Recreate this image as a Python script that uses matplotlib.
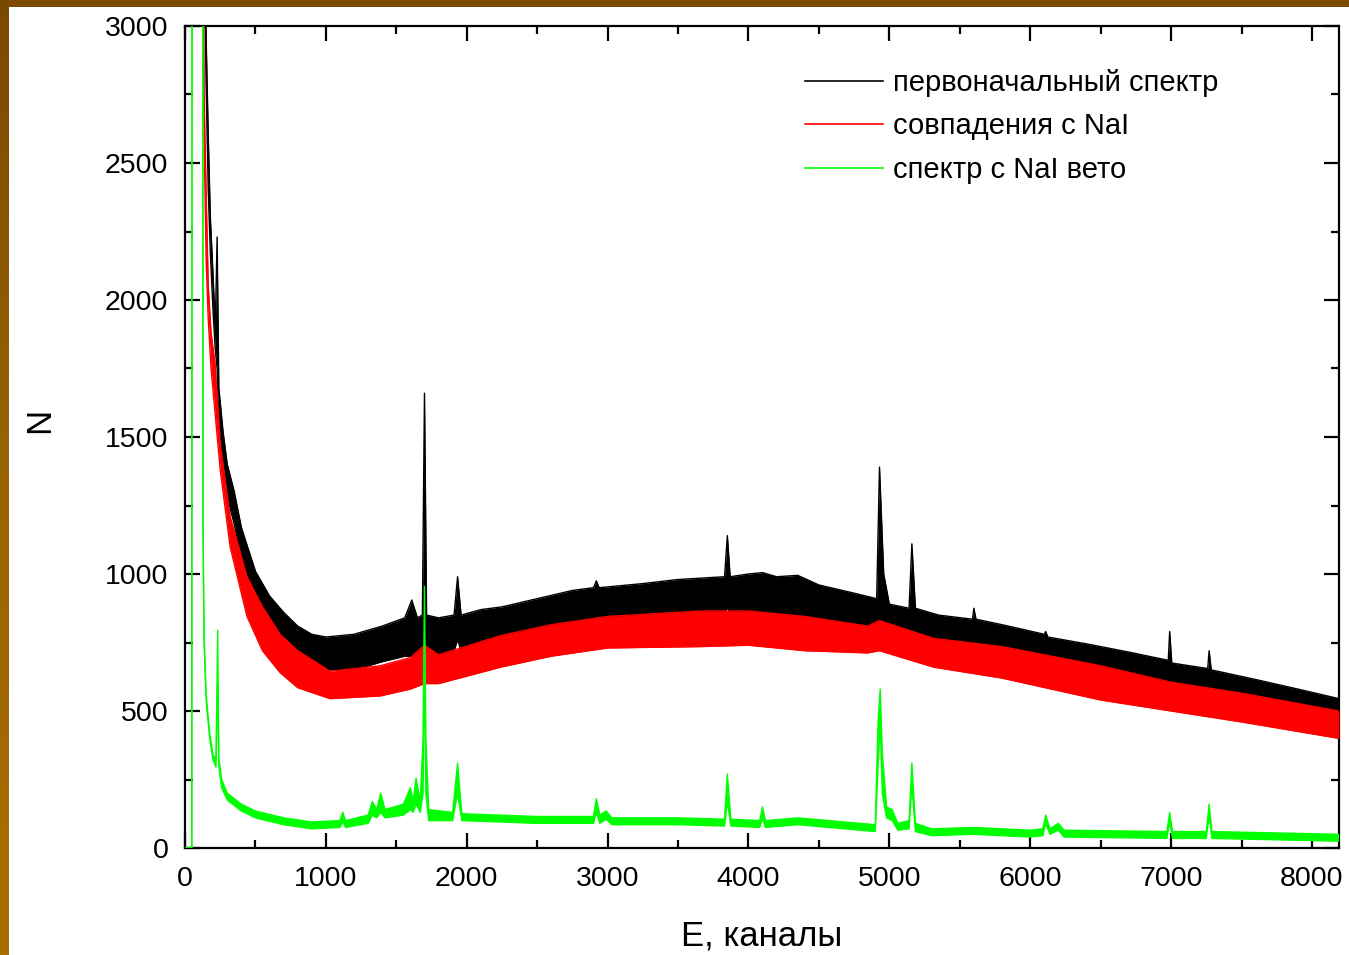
"""
Gamma spectrum of the detector: raw spectrum, coincidences with NaI and NaI-vetoed spectrum.
Each spectrum is given as a noise band (lower / upper edge) over the channel axis.
"""
import numpy as np
import matplotlib.pyplot as plt
from matplotlib.lines import Line2D
from matplotlib.colors import LinearSegmentedColormap

plt.rcParams["font.family"] = ["Liberation Sans", "DejaVu Sans"]

# первоначальный спектр: channel, lower edge, upper edge of the band
raw_ch = [135, 150, 165, 180, 200, 215, 228, 240, 270, 300, 350, 400, 450, 500, 600, 700,
          800, 900, 1000, 1200, 1400, 1560, 1610, 1650, 1685, 1700, 1715, 1800, 1910, 1935,
          1960, 2100, 2250, 2500, 2750, 2900, 2920, 2940, 3250, 3500, 3830, 3850, 3870, 4000,
          4100, 4200, 4350, 4500, 4750, 4910, 4930, 4960, 5000, 5140, 5160, 5185, 5350, 5590,
          5600, 5615, 5800, 6100, 6110, 6125, 6400, 6700, 6980, 6990, 7005, 7260, 7270, 7285,
          7600, 7900, 8192]
raw_lo = [3300, 2780, 2400, 2170, 1950, 1820, 1750, 1550, 1400, 1280, 1180, 1060, 960, 890, 800, 730,
          690, 660, 650, 650, 680, 700, 700, 690, 700, 720, 700, 700, 720, 760,
          720, 740, 770, 790, 810, 820, 850, 820, 830, 840, 850, 880, 850, 840,
          850, 830, 820, 810, 790, 780, 800, 780, 750, 740, 760, 730, 720, 700,
          720, 700, 680, 650, 660, 640, 620, 590, 570, 590, 565, 545, 560, 540,
          510, 480, 455]
raw_hi = [3400, 2960, 2600, 2300, 2080, 1900, 2230, 1680, 1520, 1400, 1300, 1170, 1090, 1010, 920, 860,
          810, 780, 770, 780, 810, 840, 905, 840, 850, 1660, 850, 840, 850, 990,
          850, 870, 880, 910, 940, 950, 975, 950, 965, 980, 990, 1140, 990, 1000,
          1005, 990, 995, 960, 930, 910, 1390, 1000, 890, 875, 1110, 875, 850, 835,
          875, 835, 815, 780, 790, 770, 745, 715, 685, 790, 675, 655, 720, 650,
          615, 580, 545]

# совпадения с NaI
coin_ch = [128, 135, 150, 165, 185, 213, 250, 320, 440, 550, 675, 800, 1030, 1385, 1600,
           1700, 1800, 2240, 2600, 3000, 3659, 4000, 4400, 4845, 4930, 5314, 5800, 6501,
           7000, 7500, 8192]
coin_lo = [3200, 2600, 2150, 1930, 1750, 1590, 1380, 1100, 845, 720, 640, 585, 545, 555, 580,
           600, 600, 660, 700, 730, 735, 740, 720, 712, 720, 660, 620, 540,
           500, 460, 400]
coin_hi = [3300, 2760, 2390, 2050, 1880, 1770, 1470, 1210, 990, 880, 780, 720, 645, 665, 695,
           740, 705, 775, 815, 845, 865, 865, 845, 810, 830, 765, 735, 665,
           605, 565, 500]

# спектр с NaI вето
veto_ch = [0, 48, 50, 126, 128, 135, 150, 175, 200, 220, 232, 240, 260, 300, 400, 500, 700,
           900, 1100, 1120, 1140, 1300, 1330, 1360, 1390, 1420, 1550, 1600, 1620, 1640, 1670,
           1690, 1700, 1710, 1730, 1900, 1935, 1965, 2500, 2900, 2920, 2945, 2990, 3030, 3500,
           3830, 3850, 3875, 4080, 4100, 4120, 4350, 4900, 4920, 4935, 4950, 4980, 5020, 5060,
           5140, 5160, 5185, 5300, 5600, 6000, 6090, 6110, 6140, 6200, 6240, 6970, 6990, 7010,
           7250, 7270, 7290, 8192]
veto_lo = [0, 0, 3500, 3500, 1180, 760, 540, 400, 320, 295, 600, 300, 220, 175, 135, 110, 85,
           70, 75, 95, 75, 90, 120, 110, 130, 110, 120, 140, 130, 160, 130,
           200, 700, 200, 100, 100, 200, 100, 90, 90, 130, 90, 105, 85, 85,
           80, 170, 80, 75, 110, 75, 85, 60, 300, 450, 200, 110, 100, 65,
           70, 230, 60, 45, 50, 40, 45, 90, 50, 65, 40, 35, 95, 35,
           35, 120, 35, 25]
veto_hi = [0, 0, 3500, 3500, 1200, 780, 560, 420, 340, 320, 795, 330, 250, 200, 160, 135, 110,
           95, 100, 130, 100, 120, 170, 140, 200, 140, 160, 220, 170, 255, 170,
           400, 955, 400, 140, 130, 310, 125, 115, 115, 180, 120, 135, 110, 110,
           105, 270, 105, 100, 150, 100, 110, 85, 460, 580, 350, 150, 140, 90,
           100, 310, 90, 70, 75, 65, 70, 120, 70, 90, 65, 60, 130, 60,
           60, 160, 60, 50]

series = [
    ("первоначальный спектр", "#000000", raw_ch, raw_lo, raw_hi),
    ("совпадения с NaI", "#ff0000", coin_ch, coin_lo, coin_hi),
    ("спектр с NaI вето", "#00ff00", veto_ch, veto_lo, veto_hi),
]


def main():
    W, H = 1349, 955
    fig = plt.figure(figsize=(W / 100, H / 100), dpi=100, facecolor="white")

    # slide frame: brown strip on top, gradient strip on the left
    top = fig.add_axes([0, 1 - 7 / H, 1, 7 / H])
    top.axis("off")
    top.add_patch(plt.Rectangle((0, 0), 1, 1, color="#7d4c00", transform=top.transAxes))
    left = fig.add_axes([0, 0, 9 / W, 1])
    grad = np.linspace(0, 1, 256).reshape(-1, 1)
    cmap = LinearSegmentedColormap.from_list("frame", ["#7a4900", "#9a6300", "#a86e00"])
    left.imshow(grad, aspect="auto", cmap=cmap, extent=[0, 1, 0, 1])
    left.axis("off")

    ax = fig.add_axes([185 / W, (H - 848) / H, (1339 - 185) / W, (848 - 26) / H])

    for z, (name, color, ch, lo, hi) in enumerate(series):
        ax.fill_between(ch, lo, hi, color=color, linewidth=0, zorder=2 + z)
        ax.plot(ch, lo, color=color, lw=1.0, zorder=2 + z)
        ax.plot(ch, hi, color=color, lw=1.0, zorder=2 + z)

    ax.set_xlim(0, 8192)
    ax.set_ylim(0, 3000)
    ax.set_xticks(np.arange(0, 8001, 1000))
    ax.set_xticks(np.arange(500, 8192, 1000), minor=True)
    ax.set_yticks(np.arange(0, 3001, 500))
    ax.set_yticks(np.arange(250, 3000, 500), minor=True)
    ax.tick_params(which="both", direction="in", top=True, right=True, width=1.6,
                   labelsize=20.5, colors="black")
    ax.tick_params(which="major", length=10.5)
    ax.tick_params(which="minor", length=5.5)
    ax.tick_params(axis="x", pad=13)
    ax.tick_params(axis="y", pad=12)
    for sp in ax.spines.values():
        sp.set_linewidth(1.6)

    ax.set_xlabel("E, каналы", fontsize=25, labelpad=20)
    ax.set_ylabel("N", fontsize=25)
    ax.yaxis.set_label_coords(-0.112, 0.52)

    handles = [Line2D([], [], color=c, lw=1.2) for _, c, *_ in series]
    labels = [s[0] for s in series]
    ax.legend(handles, labels, loc="upper left", bbox_to_anchor=(0.537, 0.948),
              frameon=False, fontsize=21, handlelength=2.69, handletextpad=0.33,
              labelspacing=0.54, borderpad=0, borderaxespad=0)

    fig.savefig("out.png", dpi=100, facecolor="white")
    plt.close(fig)


if __name__ == "__main__":
    main()
